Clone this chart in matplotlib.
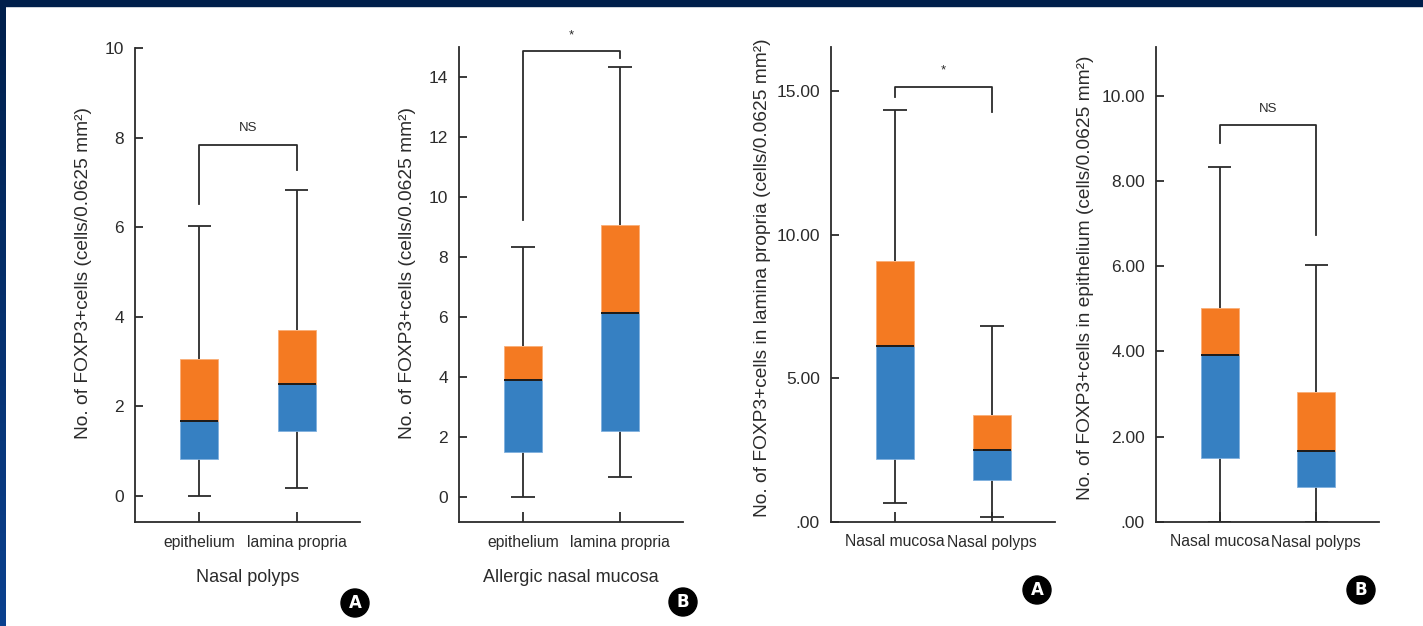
import numpy as np
import matplotlib
matplotlib.use('Agg')
import matplotlib.pyplot as plt
from matplotlib.patches import Rectangle

plt.rcParams['font.family'] = ['Liberation Sans', 'DejaVu Sans']

# five-number summaries: low whisker, Q1, median, Q3, high whisker
polyps_epi = [0.0, 0.82, 1.67, 3.05, 6.02]
polyps_lp = [0.18, 1.46, 2.49, 3.71, 6.82]
mucosa_epi = [0.0, 1.50, 3.91, 5.03, 8.33]
mucosa_lp = [0.67, 2.20, 6.13, 9.08, 14.35]

tissue_labels = ['epithelium', 'lamina propria']
group_labels = ['Nasal mucosa', 'Nasal polyps']

ticks_p1 = [0, 2, 4, 6, 8, 10]
ticks_p2 = [0, 2, 4, 6, 8, 10, 12, 14]
ticks_p3 = [0, 5, 10, 15]
ticks_p4 = [0, 2, 4, 6, 8, 10]

ylab_short = 'No. of FOXP3+cells (cells/0.0625 mm\u00b2)'
ylab_lp = 'No. of FOXP3+cells in lamina propria (cells/0.0625 mm\u00b2)'
ylab_epi = 'No. of FOXP3+cells in epithelium (cells/0.0625 mm\u00b2)'

BLUE = '#3680c2'
ORANGE = '#f47a22'
INK = '#2b2b2b'
W, H = 1423, 626

fig = plt.figure(figsize=(W / 100, H / 100), dpi=100)


def px_axes(left, right, top, bottom):
    return fig.add_axes([left / W, 1 - bottom / H, (right - left) / W, (bottom - top) / H])


def draw_boxes(ax, stats, box_w=0.39, cap_w=0.24):
    for i, (lo, q1, med, q3, hi) in enumerate(stats):
        ax.vlines(i, lo, q1, color=INK, lw=1.3, zorder=2)
        ax.vlines(i, q3, hi, color=INK, lw=1.3, zorder=2)
        ax.hlines([lo, hi], i - cap_w / 2, i + cap_w / 2, color=INK, lw=1.3, zorder=2)
        ax.bar(i, med - q1, bottom=q1, width=box_w, color=BLUE,
               edgecolor='#7fb0de', lw=0.6, zorder=3)
        ax.bar(i, q3 - med, bottom=med, width=box_w, color=ORANGE,
               edgecolor='#f9ae78', lw=0.6, zorder=3)
        ax.hlines(med, i - box_w / 2, i + box_w / 2, color='#1a1a1a', lw=1.4, zorder=4)


def bracket(ax, y_top, y_left, y_right, label, dy):
    ax.plot([0, 0, 1, 1], [y_left, y_top, y_top, y_right], color=INK, lw=1.3,
            clip_on=False, zorder=2)
    ax.text(0.5, y_top + dy, label, ha='center', va='center', fontsize=9.5,
            color=INK, clip_on=False)


def style(ax, ylim, yticks, yfmt, xlabels):
    ax.set_xlim(-0.66, 1.65)
    ax.set_ylim(*ylim)
    for s in ['top', 'right']:
        ax.spines[s].set_visible(False)
    for s in ['left', 'bottom']:
        ax.spines[s].set_linewidth(1.3)
        ax.spines[s].set_color(INK)
    ax.set_yticks(yticks)
    ax.set_yticklabels([yfmt(v) for v in yticks], fontsize=12.5, color=INK)
    ax.set_xticks([0, 1])
    ax.set_xticklabels(xlabels, fontsize=11.3, color=INK)
    ax.tick_params(axis='y', direction='in', length=6, width=1.3, pad=8, colors=INK)
    ax.tick_params(axis='x', direction='in', length=7, width=1.3, pad=9, colors=INK)


def badge(x, y, letter):
    fig.text(x / W, 1 - y / H, letter, ha='center', va='center', fontsize=12,
             fontweight='bold', color='white', family='DejaVu Sans',
             bbox=dict(boxstyle='circle,pad=0.3', fc='black', ec='black'))


# panel A (left pair): nasal polyps
ax1 = px_axes(135, 360, 48, 522)
draw_boxes(ax1, [polyps_epi, polyps_lp])
style(ax1, (-0.58, 10), ticks_p1, lambda v: f'{v:d}', tissue_labels)
bracket(ax1, 7.84, 6.51, 7.28, 'NS', 0.38)
ax1.set_xlabel('Nasal polyps', fontsize=13, color=INK, labelpad=14)
ax1.set_ylabel(ylab_short, fontsize=13.8, color=INK)
ax1.yaxis.set_label_coords(-0.19, 0.525)

# panel B (left pair): allergic nasal mucosa
ax2 = px_axes(459, 683, 47, 522)
draw_boxes(ax2, [mucosa_epi, mucosa_lp])
style(ax2, (-0.83, 15), ticks_p2, lambda v: f'{v:d}', tissue_labels)
bracket(ax2, 14.87, 9.24, 14.64, '*', 0.5)
ax2.set_xlabel('Allergic nasal mucosa', fontsize=13, color=INK, labelpad=14)
ax2.set_ylabel(ylab_short, fontsize=13.8, color=INK)
ax2.yaxis.set_label_coords(-0.19, 0.525)

# panel A (right pair): lamina propria counts
ax3 = px_axes(831, 1055, 47, 522)
draw_boxes(ax3, [mucosa_lp, polyps_lp])
style(ax3, (0, 16.53), ticks_p3, lambda v: '.00' if v == 0 else f'{v:.2f}',
      group_labels)
bracket(ax3, 15.15, 14.8, 14.28, '*', 0.55)
ax3.set_ylabel(ylab_lp, fontsize=13.8, color=INK)
ax3.yaxis.set_label_coords(-0.27, 0.514)

# panel B (right pair): epithelium counts
ax4 = px_axes(1156, 1379, 47, 522)
draw_boxes(ax4, [mucosa_epi, polyps_epi])
style(ax4, (0, 11.14), ticks_p4, lambda v: '.00' if v == 0 else f'{v:.2f}',
      group_labels)
bracket(ax4, 9.3, 8.88, 6.72, 'NS', 0.38)
ax4.set_ylabel(ylab_epi, fontsize=13.8, color=INK)
ax4.yaxis.set_label_coords(-0.28, 0.514)

badge(355, 603, 'A')
badge(683, 602, 'B')
badge(1037, 590, 'A')
badge(1361, 590, 'B')

# navy frame: flat band on top, vertical gradient on the left edge
fig.patches.append(Rectangle((0, 1 - 6 / H), 1, 6 / H, transform=fig.transFigure,
                             color='#001f4b', zorder=10))
edge = fig.add_axes([0, 0, 6 / W, 1])
grad = np.linspace(0, 1, 256).reshape(-1, 1)
cmap = matplotlib.colors.LinearSegmentedColormap.from_list('edge', ['#001f4b', '#0b418f'])
edge.imshow(grad, aspect='auto', cmap=cmap, extent=[0, 1, 1, 0])
edge.set_axis_off()

fig.savefig('out.png', dpi=100)
